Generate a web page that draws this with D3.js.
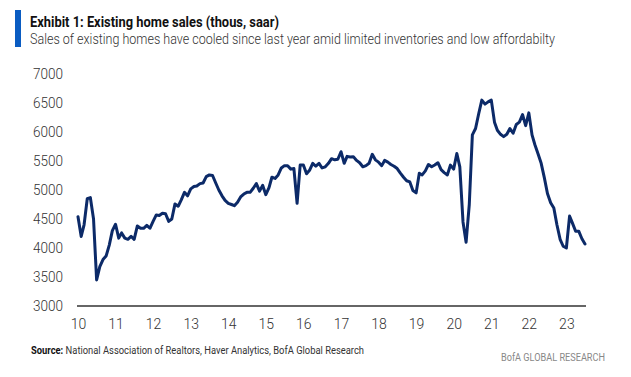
<!DOCTYPE html>
<html>
<head>
<meta charset="utf-8">
<script src="https://cdn.jsdelivr.net/npm/d3@7"></script>
<style>
  html, body { margin: 0; padding: 0; background: #fff; }
  svg { display: block; }
  text { font-family: "Liberation Sans Narrow", "Roboto", "Liberation Sans", sans-serif; }
</style>
</head>
<body>
<svg id="chart" width="631" height="377"></svg>
<script>
// ---- data ----
const title = "Exhibit 1: Existing home sales (thous, saar)";
const subtitle = "Sales of existing homes have cooled since last year amid limited inventories and low affordabilty";
const sourceLabel = "Source:";
const sourceText = " National Association of Realtors, Haver Analytics, BofA Global Research";
const footer = "BofA GLOBAL RESEARCH";
const startMonth = "2010-01";
const yTicks = [3000, 3500, 4000, 4500, 5000, 5500, 6000, 6500, 7000];
const xTickYears = [2010, 2011, 2012, 2013, 2014, 2015, 2016, 2017, 2018, 2019, 2020, 2021, 2022, 2023];
const sales2010 = [4540, 4200, 4400, 4850, 4870, 4500, 3450, 3680, 3800, 3860, 4050, 4300];
const sales2011 = [4410, 4170, 4260, 4170, 4150, 4200, 4150, 4380, 4340, 4340, 4390, 4340];
const sales2012 = [4460, 4570, 4560, 4600, 4590, 4460, 4500, 4760, 4720, 4830, 4960, 4900];
const sales2013 = [5020, 5060, 5070, 5110, 5120, 5230, 5260, 5250, 5120, 5000, 4900, 4820];
const sales2014 = [4770, 4750, 4730, 4790, 4880, 4930, 4960, 4960, 5030, 5110, 4980, 5080];
const sales2015 = [4920, 5040, 5220, 5200, 5260, 5380, 5420, 5420, 5360, 5370, 4770, 5430];
const sales2016 = [5430, 5280, 5340, 5460, 5410, 5460, 5380, 5400, 5460, 5540, 5520, 5530];
const sales2017 = [5660, 5460, 5580, 5570, 5575, 5510, 5470, 5400, 5420, 5460, 5615, 5520];
const sales2018 = [5480, 5420, 5510, 5480, 5440, 5410, 5370, 5290, 5220, 5160, 5140, 4990];
const sales2019 = [4950, 5290, 5260, 5330, 5440, 5400, 5430, 5470, 5350, 5300, 5260, 5430];
const sales2020 = [5360, 5630, 5400, 4450, 4100, 4750, 5950, 6060, 6320, 6550, 6480, 6520];
const sales2021 = [6550, 6170, 6030, 5960, 5920, 5960, 6060, 5980, 6130, 6170, 6300, 6110];
const sales2022 = [6330, 5950, 5780, 5620, 5460, 5210, 4940, 4780, 4690, 4400, 4150, 4030];
const sales2023 = [4000, 4550, 4430, 4290, 4290, 4160, 4070];

const values = [].concat(sales2010, sales2011, sales2012, sales2013, sales2014, sales2015,
  sales2016, sales2017, sales2018, sales2019, sales2020, sales2021, sales2022, sales2023);
const start = d3.timeParse("%Y-%m")(startMonth);
const data = values.map((v, i) => ({ date: d3.timeMonth.offset(start, i), value: v }));

// ---- layout ----
const svg = d3.select("#chart");
const x = d3.scaleTime()
  .domain([data[0].date, data[data.length - 1].date])
  .range([78, 585]);
const y = d3.scaleLinear().domain([3000, 7000]).range([306, 74]);

// header
svg.append("rect").attr("x", 15).attr("y", 10).attr("width", 6).attr("height", 37).attr("fill", "#0a5cc2");
svg.append("text").attr("x", 30).attr("y", 27)
  .attr("font-size", 14).attr("font-weight", "bold").attr("fill", "#111")
  .attr("textLength", 249).attr("lengthAdjust", "spacingAndGlyphs")
  .text(title);
svg.append("text").attr("x", 30).attr("y", 44)
  .attr("font-size", 14).attr("font-weight", 300).attr("fill", "#333")
  .attr("textLength", 525).attr("lengthAdjust", "spacingAndGlyphs")
  .text(subtitle);

// y axis labels
svg.append("g").selectAll("text").data(yTicks).join("text")
  .attr("x", 63).attr("y", d => y(d)).attr("dy", "0.36em")
  .attr("text-anchor", "end").attr("font-size", 14).attr("font-weight", 300).attr("fill", "#333")
  .attr("textLength", 30).attr("lengthAdjust", "spacingAndGlyphs")
  .text(d => d);

// x axis
const xAxis = d3.axisBottom(x)
  .tickValues(xTickYears.map(yr => new Date(yr, 0, 1)))
  .tickFormat(d3.timeFormat("%y"))
  .tickSize(0).tickPadding(0);
const gx = svg.append("g").attr("transform", "translate(0,306)").call(xAxis);
gx.select(".domain").remove();
gx.selectAll("text").attr("y", 23).attr("dy", 0)
  .attr("font-size", 14).attr("font-weight", 300).attr("fill", "#333")
  .style("font-family", '"Liberation Sans Narrow", "Roboto", "Liberation Sans", sans-serif');
svg.append("line").attr("x1", 77).attr("x2", 586).attr("y1", y(3000)).attr("y2", y(3000))
  .attr("stroke", "#333").attr("stroke-width", 1.6);

// series line
const line = d3.line().x(d => x(d.date)).y(d => y(d.value));
svg.append("path").datum(data)
  .attr("fill", "none").attr("stroke", "#0c2a68").attr("stroke-width", 3)
  .attr("stroke-linejoin", "round").attr("stroke-linecap", "round")
  .attr("d", line);

// source & footer
const src = svg.append("text").attr("x", 31).attr("y", 354).attr("font-size", 10).attr("fill", "#333");
src.append("tspan").attr("font-weight", "bold").attr("fill", "#111").text(sourceLabel);
src.append("tspan").text(sourceText);
src.attr("textLength", 333).attr("lengthAdjust", "spacingAndGlyphs");
svg.append("text").attr("x", 605).attr("y", 361).attr("text-anchor", "end")
  .attr("font-size", 10).attr("fill", "#888")
  .attr("textLength", 104).attr("lengthAdjust", "spacingAndGlyphs")
  .text(footer);
</script>
</body>
</html>
